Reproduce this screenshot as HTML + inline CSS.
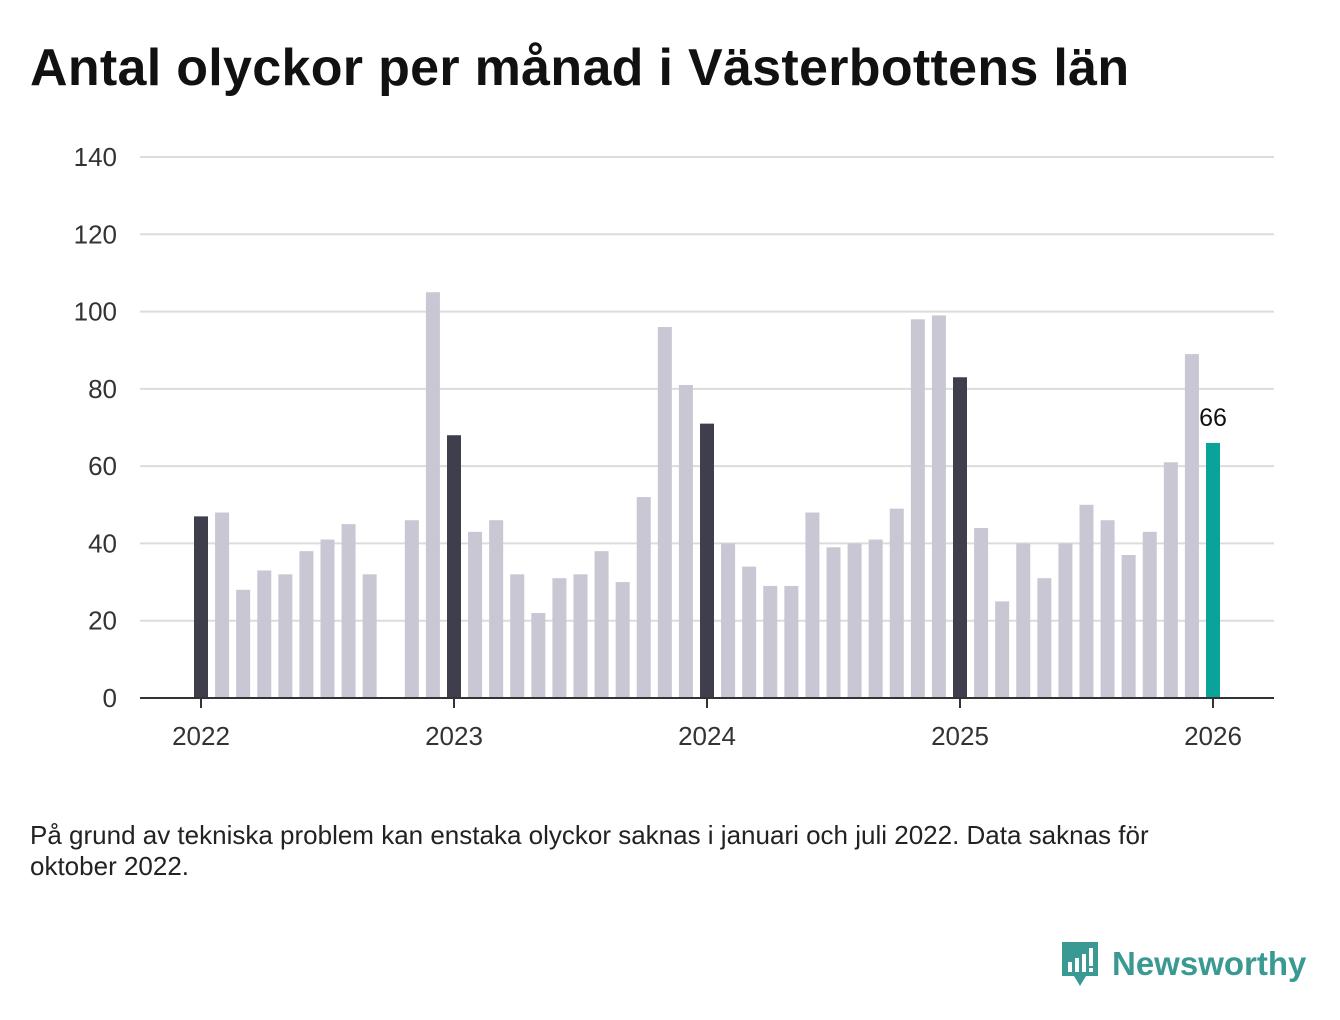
<!DOCTYPE html>
<html><head><meta charset="utf-8"><style>
body{margin:0;background:#fff;width:1340px;height:1020px;overflow:hidden;font-family:"Liberation Sans",sans-serif}
h1{position:absolute;left:30px;top:38px;margin:0;font-size:52px;font-weight:bold;color:#111;letter-spacing:0.3px}
#note{position:absolute;left:30px;top:820px;font-size:26px;color:#222;line-height:31px;width:1200px}
#logo{position:absolute;left:1060px;top:940px;display:flex;align-items:center}
#logo span{font-size:33px;font-weight:bold;color:#3a9a93;margin-left:12px}
</style></head><body>
<h1>Antal olyckor per månad i Västerbottens län</h1>
<svg id="chart" width="1340" height="800" style="position:absolute;left:0;top:0"></svg>
<div id="note">På grund av tekniska problem kan enstaka olyckor saknas i januari och juli 2022. Data saknas för oktober 2022.</div>
<div id="logo">
<svg width="40" height="48" viewBox="0 0 40 48"><path d="M2 2h36v34H26l-6 10-6-10H2z" fill="#3a9a93"/><rect x="8" y="22" width="4" height="10" fill="#fff"/><rect x="15" y="18" width="4" height="14" fill="#fff"/><rect x="22" y="14" width="4" height="18" fill="#fff"/><rect x="29" y="8" width="4" height="18" fill="#fff"/><rect x="29" y="28" width="4" height="4" fill="#fff"/></svg>
<span>Newsworthy</span></div>
<script>
const values=[47,48,28,33,32,38,41,45,32,null,46,105,
68,43,46,32,22,31,32,38,30,52,96,81,
71,40,34,29,29,48,39,40,41,49,98,99,
83,44,25,40,31,40,50,46,37,43,61,89,
66];
const yTicks=[0,20,40,60,80,100,120,140];
const years=["2022","2023","2024","2025","2026"];
const svg=document.getElementById('chart');
const NS='http://www.w3.org/2000/svg';
const x0=201,monthW=253/12,yBase=698,yScale=541/140;
const xf=i=>x0+i*monthW, yf=v=>yBase-v*yScale;
function mk(t,a){const e=document.createElementNS(NS,t);for(const k in a)e.setAttribute(k,a[k]);svg.appendChild(e);return e;}
yTicks.forEach(v=>{
 if(v>0){const l=mk('line',{x1:140,x2:1274,y1:yf(v),y2:yf(v),stroke:'#dcdcdc','stroke-width':2});
 
 }
 const t=mk('text',{x:117,y:yf(v)+9,'text-anchor':'end','font-size':26,fill:'#333'});t.textContent=v;
 
 
});
values.forEach((v,i)=>{
 if(v==null)return;
 const last=i===values.length-1, jan=i%12===0;
 const r=mk('rect',{x:xf(i)-7,y:yf(v),width:14,height:v*yScale,fill:last?'#0aa39a':(jan?'#3f3e4c':'#c8c7d3')});
 
 
 if(last){const t=mk('text',{x:xf(i),y:yf(v)-17,'text-anchor':'middle','font-size':25,fill:'#111'});t.textContent=v;
 
 }
});
const ax=mk('line',{x1:140,x2:1274,y1:yBase,y2:yBase,stroke:'#333','stroke-width':2});


years.forEach((y,k)=>{
 const x=xf(k*12);
 const tk=mk('line',{x1:x,x2:x,y1:yBase,y2:yBase+10,stroke:'#333','stroke-width':2});
 
 
 const t=mk('text',{x:x,y:745,'text-anchor':'middle','font-size':26,fill:'#333'});t.textContent=y;
 
 
});
</script>
</body></html>
